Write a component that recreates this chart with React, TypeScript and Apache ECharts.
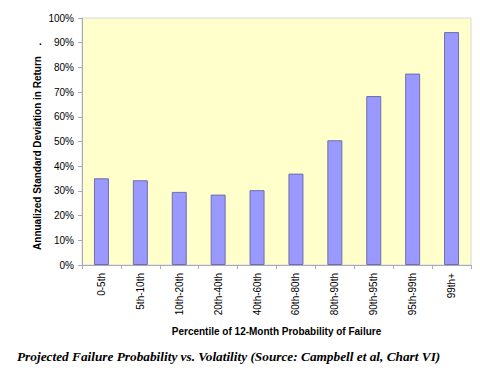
import React, { useEffect, useRef } from "react";
import * as echarts from "echarts";

const categories = ["0-5th", "5th-10th", "10th-20th", "20th-40th", "40th-60th", "60th-80th", "80th-90th", "90th-95th", "95th-99th", "99th+"];
const volatility = [35.1, 34.3, 29.6, 28.5, 30.3, 37.0, 50.5, 68.4, 77.5, 94.3];
const yTicks = [0, 10, 20, 30, 40, 50, 60, 70, 80, 90, 100];

export default function App() {
  const ref = useRef<HTMLDivElement>(null);
  useEffect(() => {
    if (!ref.current) return;
    const chart = echarts.init(ref.current, null, { renderer: "svg" });
    const font = "'Liberation Sans', Arial, sans-serif";
    chart.setOption({
      animation: false,
      backgroundColor: "#ffffff",
      grid: {
        left: 82,
        right: 9,
        top: 18,
        bottom: 107,
        show: true,
        backgroundColor: "#FFFFCC",
        borderColor: "#d8d8d8",
        borderWidth: 1,
      },
      xAxis: {
        type: "category",
        data: categories,
        boundaryGap: true,
        axisLine: { show: true, lineStyle: { color: "#a8a8c0", width: 1 } },
        axisTick: { show: true, length: 4, inside: false, alignWithLabel: false, lineStyle: { color: "#a8a8c0" } },
        axisLabel: { rotate: 90, fontSize: 10, color: "#000", fontFamily: font, margin: 8, interval: 0 },
        name: "Percentile of 12-Month Probability of Failure",
        nameLocation: "middle",
        nameGap: 61,
        nameTextStyle: { fontSize: 10, fontWeight: "bold", color: "#000", fontFamily: font },
      },
      yAxis: {
        type: "value",
        min: 0,
        max: 100,
        interval: 10,
        splitLine: { show: false },
        axisLine: { show: true, lineStyle: { color: "#a8a8c0", width: 1 } },
        axisTick: { show: true, length: 4, lineStyle: { color: "#a8a8c0" } },
        axisLabel: { fontSize: 10, color: "#000", fontFamily: font, margin: 8, formatter: (v: number) => (yTicks.includes(v) ? v + "%" : "") },
      },
      graphic: [
        {
          type: "text",
          x: 37,
          y: 153,
          rotation: Math.PI / 2,
          style: {
            text: "Annualized Standard Deviation in Return",
            font: `bold 10px ${font}`,
            fill: "#000",
            align: "center",
            verticalAlign: "middle",
          },
        },
        {
          type: "text",
          x: 39,
          y: 36,
          style: { text: ".", font: `bold 10px ${font}`, fill: "#000" },
        },
        {
          type: "text",
          x: 17,
          y: 356,
          style: {
            text: "Projected Failure Probability vs. Volatility (Source: Campbell et al, Chart VI)",
            font: "italic bold 13.3px 'Liberation Serif', 'Times New Roman', serif",
            fill: "#000",
            verticalAlign: "middle",
          },
        },
      ],
      series: [
        {
          type: "bar",
          data: volatility,
          barWidth: 15,
          itemStyle: { color: "#9999FF", borderColor: "#6f6fa8", borderWidth: 1 },
        },
      ],
    });
    return () => chart.dispose();
  }, []);
  return <div ref={ref} style={{ width: 480, height: 372, position: "absolute", left: 0, top: 0 }} />;
}
